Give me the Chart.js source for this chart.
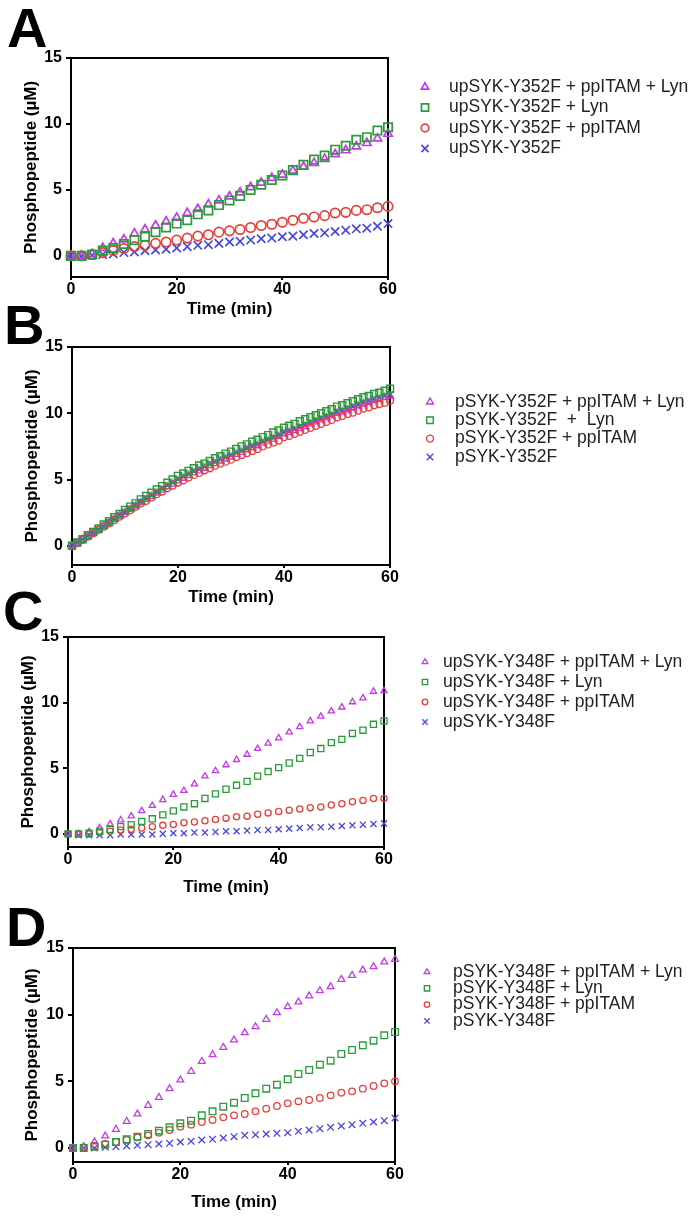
<!DOCTYPE html>
<html>
<head>
<meta charset="utf-8">
<script src="https://cdn.jsdelivr.net/npm/chart.js@4.4.0/dist/chart.umd.min.js"></script>
<style>
  body { margin: 0; background: #fff; width: 693px; height: 1217px; position: relative; overflow: hidden; }
  canvas { position: absolute; left: 0; }
  .tag { position: absolute; font: bold 56px 'Liberation Sans', Arial, sans-serif; line-height: 1; color: #000; }
</style>
</head>
<body>
<div class="tag" style="left:7px;top:0px">A</div>
<div class="tag" style="left:4px;top:297px">B</div>
<div class="tag" style="left:3px;top:583px">C</div>
<div class="tag" style="left:6px;top:899px">D</div>
<canvas id="panelA" width="693" height="300"></canvas>
<canvas id="panelB" width="693" height="300"></canvas>
<canvas id="panelC" width="693" height="300"></canvas>
<canvas id="panelD" width="693" height="300"></canvas>
<script>
// Time points (min)
const time2 = [0, 2, 4, 6, 8, 10, 12, 14, 16, 18, 20, 22, 24, 26, 28, 30, 32, 34, 36, 38, 40, 42, 44, 46, 48, 50, 52, 54, 56, 58, 60];
const time1 = [0, 1, 2, 3, 4, 5, 6, 7, 8, 9, 10, 11, 12, 13, 14, 15, 16, 17, 18, 19, 20, 21, 22, 23, 24, 25, 26, 27, 28, 29, 30,
               31, 32, 33, 34, 35, 36, 37, 38, 39, 40, 41, 42, 43, 44, 45, 46, 47, 48, 49, 50, 51, 52, 53, 54, 55, 56, 57, 58, 59, 60];

// Panel A - upSYK-Y352F
const labelsA = ['upSYK-Y352F + ppITAM + Lyn', 'upSYK-Y352F + Lyn', 'upSYK-Y352F + ppITAM', 'upSYK-Y352F'];
const aTri  = [0, 0, 0.15, 0.6, 0.95, 1.25, 1.7, 2.0, 2.3, 2.6, 2.9, 3.25, 3.55, 3.9, 4.2, 4.5, 4.8, 5.2, 5.55, 5.9, 6.15, 6.45, 6.75, 7.05, 7.35, 7.7, 8.0, 8.3, 8.55, 8.9, 9.25];
const aSq   = [0, 0, 0.1, 0.4, 0.6, 0.9, 1.2, 1.45, 1.8, 2.15, 2.45, 2.7, 3.15, 3.45, 3.85, 4.2, 4.55, 5.0, 5.4, 5.75, 6.1, 6.5, 6.9, 7.3, 7.6, 8.05, 8.35, 8.8, 9.0, 9.5, 9.75];
const aCirc = [0, 0, 0.1, 0.25, 0.4, 0.55, 0.7, 0.8, 0.95, 1.05, 1.2, 1.35, 1.5, 1.6, 1.8, 1.9, 2.0, 2.15, 2.3, 2.4, 2.55, 2.7, 2.85, 2.95, 3.05, 3.25, 3.3, 3.45, 3.5, 3.65, 3.75];
const aX    = [0, 0, 0.05, 0.1, 0.15, 0.25, 0.3, 0.4, 0.45, 0.5, 0.6, 0.7, 0.8, 0.85, 0.95, 1.05, 1.1, 1.2, 1.3, 1.35, 1.45, 1.5, 1.6, 1.7, 1.75, 1.85, 1.95, 2.05, 2.1, 2.25, 2.45];

// Panel B - pSYK-Y352F (every minute)
const labelsB = ['pSYK-Y352F + ppITAM + Lyn', 'pSYK-Y352F  +  Lyn', 'pSYK-Y352F + ppITAM', 'pSYK-Y352F'];
const bTri  = [0, 0.22, 0.48, 0.72, 0.98, 1.22, 1.48, 1.72, 2.0, 2.25, 2.5, 2.75, 3.0, 3.25, 3.5, 3.72, 3.98, 4.2, 4.45, 4.65,
               4.9, 5.1, 5.3, 5.5, 5.65, 5.85, 6.05, 6.2, 6.4, 6.55, 6.7, 6.9, 7.05, 7.25, 7.4, 7.55, 7.75, 7.9, 8.05, 8.25,
               8.45, 8.55, 8.7, 8.85, 9.0, 9.2, 9.35, 9.5, 9.65, 9.8, 10.0, 10.1, 10.25, 10.4, 10.55, 10.7, 10.8, 10.95, 11.05, 11.2, 11.3];
const bSq   = [0, 0.25, 0.5, 0.8, 1.05, 1.3, 1.6, 1.85, 2.15, 2.4, 2.7, 2.95, 3.2, 3.5, 3.75, 4.0, 4.25, 4.5, 4.75, 5.0,
               5.27, 5.45, 5.65, 5.85, 6.05, 6.2, 6.4, 6.6, 6.75, 6.95, 7.1, 7.3, 7.5, 7.65, 7.85, 8.0, 8.2, 8.35, 8.55, 8.7,
               8.9, 9.05, 9.2, 9.4, 9.55, 9.7, 9.85, 10.0, 10.15, 10.3, 10.5, 10.6, 10.75, 10.9, 11.05, 11.2, 11.3, 11.45, 11.55, 11.7, 11.85];
const bCirc = [0, 0.2, 0.45, 0.7, 0.95, 1.2, 1.45, 1.7, 1.95, 2.2, 2.45, 2.7, 2.95, 3.2, 3.4, 3.65, 3.9, 4.1, 4.35, 4.55,
               4.77, 4.95, 5.15, 5.35, 5.5, 5.7, 5.85, 6.05, 6.2, 6.35, 6.5, 6.7, 6.85, 7.0, 7.15, 7.3, 7.5, 7.65, 7.8, 7.95,
               8.2, 8.3, 8.45, 8.6, 8.75, 8.9, 9.05, 9.2, 9.35, 9.5, 9.7, 9.8, 9.95, 10.05, 10.2, 10.35, 10.45, 10.6, 10.7, 10.8, 10.95];
const bX    = [0, 0.25, 0.5, 0.75, 1.0, 1.25, 1.5, 1.75, 2.05, 2.3, 2.55, 2.8, 3.05, 3.3, 3.55, 3.8, 4.05, 4.3, 4.55, 4.75,
               5.0, 5.2, 5.4, 5.6, 5.75, 5.95, 6.15, 6.3, 6.5, 6.65, 6.8, 7.0, 7.15, 7.35, 7.5, 7.65, 7.85, 8.0, 8.15, 8.35,
               8.55, 8.65, 8.8, 8.95, 9.1, 9.3, 9.45, 9.6, 9.75, 9.9, 10.1, 10.2, 10.35, 10.5, 10.65, 10.8, 10.9, 11.05, 11.15, 11.3, 11.4];

// Panel C - upSYK-Y348F
const labelsC = ['upSYK-Y348F + ppITAM + Lyn', 'upSYK-Y348F + Lyn', 'upSYK-Y348F + ppITAM', 'upSYK-Y348F'];
const cTri  = [0, 0, 0.15, 0.45, 0.75, 1.05, 1.35, 1.75, 2.15, 2.6, 3.0, 3.3, 3.8, 4.4, 4.8, 5.25, 5.65, 6.05, 6.5, 6.9, 7.3, 7.75, 8.15, 8.6, 8.95, 9.35, 9.65, 10.05, 10.35, 10.85, 10.9];
const cSq   = [0, 0, 0.05, 0.2, 0.35, 0.55, 0.7, 0.95, 1.15, 1.45, 1.75, 2.05, 2.3, 2.7, 3.05, 3.4, 3.7, 4.0, 4.4, 4.75, 5.05, 5.4, 5.75, 6.2, 6.5, 6.95, 7.2, 7.65, 7.9, 8.35, 8.6];
const cCirc = [0, 0, 0, 0.1, 0.2, 0.3, 0.35, 0.45, 0.55, 0.65, 0.72, 0.85, 0.9, 1.0, 1.1, 1.2, 1.3, 1.35, 1.5, 1.6, 1.7, 1.8, 1.9, 2.0, 2.05, 2.2, 2.3, 2.45, 2.55, 2.7, 2.7];
const cX    = [0, -0.1, -0.1, -0.1, -0.1, -0.05, -0.05, -0.05, -0.05, 0, 0.05, 0.05, 0.1, 0.1, 0.15, 0.2, 0.2, 0.25, 0.3, 0.3, 0.35, 0.4, 0.45, 0.5, 0.5, 0.55, 0.6, 0.65, 0.7, 0.75, 0.8];

// Panel D - pSYK-Y348F
const labelsD = ['pSYK-Y348F + ppITAM + Lyn', 'pSYK-Y348F + Lyn', 'pSYK-Y348F + ppITAM', 'pSYK-Y348F'];
const dTri  = [0, 0.1, 0.45, 0.9, 1.4, 2.0, 2.55, 3.2, 3.8, 4.45, 5.1, 5.75, 6.5, 7.0, 7.55, 8.1, 8.65, 9.1, 9.65, 10.15, 10.6, 10.95, 11.4, 11.8, 12.1, 12.65, 12.95, 13.35, 13.6, 13.95, 14.15];
const dSq   = [0, 0, 0.1, 0.25, 0.45, 0.65, 0.85, 1.05, 1.3, 1.55, 1.85, 2.05, 2.45, 2.75, 3.1, 3.4, 3.75, 4.1, 4.45, 4.75, 5.15, 5.55, 5.85, 6.25, 6.55, 7.05, 7.35, 7.7, 8.05, 8.45, 8.7];
const dCirc = [0, 0.05, 0.15, 0.3, 0.45, 0.6, 0.8, 0.95, 1.15, 1.35, 1.6, 1.75, 1.95, 2.1, 2.3, 2.45, 2.55, 2.75, 2.95, 3.15, 3.35, 3.5, 3.6, 3.75, 3.95, 4.15, 4.25, 4.45, 4.65, 4.85, 5.0];
const dX    = [0, 0, 0, 0.05, 0.1, 0.15, 0.2, 0.25, 0.3, 0.35, 0.45, 0.5, 0.6, 0.65, 0.75, 0.85, 0.95, 1.0, 1.05, 1.1, 1.15, 1.25, 1.35, 1.45, 1.55, 1.65, 1.75, 1.85, 1.95, 2.05, 2.25];

const FONT = "'Liberation Sans', Arial, sans-serif";
const TITLE_HALF = 10.2;  // half line height of the 17px axis titles
const styles = [
    {pointStyle: 'triangle', color: '#c23be6', order: 2},
    {pointStyle: 'rect',     color: '#2a9a3a', order: 0},
    {pointStyle: 'circle',   color: '#e5403c', order: 1},
    {pointStyle: 'crossRot', color: '#4848dc', order: 3},
];

// Top and right lines of the box
const boxFrame = {
    id: 'boxFrame',
    beforeDatasetsDraw(chart) {
        const {ctx, chartArea: a} = chart;
        ctx.save();
        ctx.strokeStyle = '#000';
        ctx.lineWidth = 2;
        ctx.beginPath();
        ctx.moveTo(a.left, a.top);
        ctx.lineTo(a.right, a.top);
        ctx.lineTo(a.right, a.bottom);
        ctx.stroke();
        ctx.restore();
    }
};

// Legend to the right of the plot
const sideLegend = {
    id: 'sideLegend',
    afterDraw(chart, args, opts) {
        const ctx = chart.ctx;
        ctx.save();
        chart.data.datasets.forEach((ds, i) => {
            const y = opts.y + i * opts.step;
            ctx.fillStyle = 'rgba(0,0,0,0)';
            ctx.strokeStyle = ds.borderColor;
            ctx.lineWidth = ds.borderWidth;
            Chart.helpers.drawPoint(ctx, {pointStyle: ds.pointStyle, radius: opts.radii[i], rotation: 0, borderWidth: ds.borderWidth}, opts.markerX, y);
            ctx.font = opts.font;
            ctx.fillStyle = '#222';
            ctx.textBaseline = 'middle';
            ctx.fillText(ds.label, opts.textX, y);
        });
        ctx.restore();
    }
};

function makePanel(id, g, times, series, labels) {
    const canvas = document.getElementById(id);
    const bottomEdge = g.xTitleY + TITLE_HALF;
    canvas.height = Math.ceil(bottomEdge - g.canvasTop) + 4;
    canvas.style.top = g.canvasTop + 'px';
    const padLeft = g.yTitleX - TITLE_HALF;

    const datasets = series.map((vals, i) => ({
        label: labels[i],
        data: vals.map((v, k) => ({x: times[k], y: v})),
        pointStyle: styles[i].pointStyle,
        borderColor: styles[i].color,
        backgroundColor: 'rgba(0,0,0,0)',
        pointRadius: g.radii[i],
        borderWidth: g.lw,
        showLine: false,
        clip: false,
        order: styles[i].order,
    }));

    const tickFont = {family: FONT, size: 16, weight: 'bold'};
    const titleFont = {family: FONT, size: 17, weight: 'bold'};
    return new Chart(canvas, {
        type: 'scatter',
        data: {datasets},
        options: {
            responsive: false,
            animation: false,
            events: [],
            layout: {padding: {left: padLeft, right: 693 - g.right, top: g.top - g.canvasTop, bottom: canvas.height - (bottomEdge - g.canvasTop)}},
            scales: {
                x: {
                    type: 'linear', min: 0, max: 60,
                    ticks: {stepSize: 20, font: tickFont, color: '#000', padding: 0, maxRotation: 0},
                    grid: {drawOnChartArea: false, drawTicks: true, tickLength: 3, color: '#000', lineWidth: 2},
                    border: {color: '#000', width: 2},
                    title: {display: true, text: 'Time (min)', font: titleFont, color: '#000', padding: {top: 0, bottom: 0}},
                    afterFit(s) { s.height = bottomEdge - g.bottom; }
                },
                y: {
                    min: g.ymin, max: 15,
                    ticks: {stepSize: 5, includeBounds: false, font: tickFont, color: '#000', padding: 4},
                    grid: {drawOnChartArea: false, drawTicks: true, tickLength: 5, color: '#000', lineWidth: 2},
                    border: {color: '#000', width: 2},
                    title: {display: true, text: 'Phosphopeptide (µM)', font: titleFont, color: '#000', padding: {top: 0, bottom: 0}},
                    afterFit(s) { s.width = g.left - padLeft; }
                }
            },
            plugins: {
                legend: {display: false},
                tooltip: {enabled: false},
                sideLegend: {
                    markerX: g.legX, textX: g.legTextX, y: g.legY - g.canvasTop, step: g.legStep,
                    radii: g.legRadii, font: '17.5px ' + FONT
                }
            }
        },
        plugins: [boxFrame, sideLegend]
    });
}

makePanel('panelA', {
    canvasTop: 30, left: 71, right: 388, top: 58, bottom: 277, ymin: -1.6, xTitleY: 309, yTitleX: 31,
    radii: [4.8, 5.9, 4.7, 5.9], lw: 1.7,
    legX: 425, legTextX: 449, legY: 87, legStep: 20.5, legRadii: [4.2, 5.0, 3.8, 5.0]
}, time2, [aTri, aSq, aCirc, aX], labelsA);

makePanel('panelB', {
    canvasTop: 320, left: 72, right: 390, top: 347, bottom: 565, ymin: -1.45, xTitleY: 597, yTitleX: 32,
    radii: [4.0, 5.0, 3.5, 5.0], lw: 1.4,
    legX: 430, legTextX: 455, legY: 402, legStep: 18.3, legRadii: [4.0, 4.6, 3.5, 4.6]
}, time1, [bTri, bSq, bCirc, bX], labelsB);

makePanel('panelC', {
    canvasTop: 610, left: 68, right: 384, top: 637, bottom: 847, ymin: -1.0, xTitleY: 887, yTitleX: 28.5,
    radii: [3.6, 4.3, 3.1, 4.3], lw: 1.3,
    legX: 425, legTextX: 443, legY: 662, legStep: 20, legRadii: [3.3, 3.8, 2.8, 3.8]
}, time2, [cTri, cSq, cCirc, cX], labelsC);

makePanel('panelD', {
    canvasTop: 920, left: 73, right: 395, top: 948, bottom: 1162, ymin: -1.05, xTitleY: 1202, yTitleX: 32.5,
    radii: [3.9, 4.7, 3.3, 4.7], lw: 1.3,
    legX: 427, legTextX: 453, legY: 972, legStep: 16.3, legRadii: [3.3, 3.8, 2.8, 3.8]
}, time2, [dTri, dSq, dCirc, dX], labelsD);
</script>
</body>
</html>
